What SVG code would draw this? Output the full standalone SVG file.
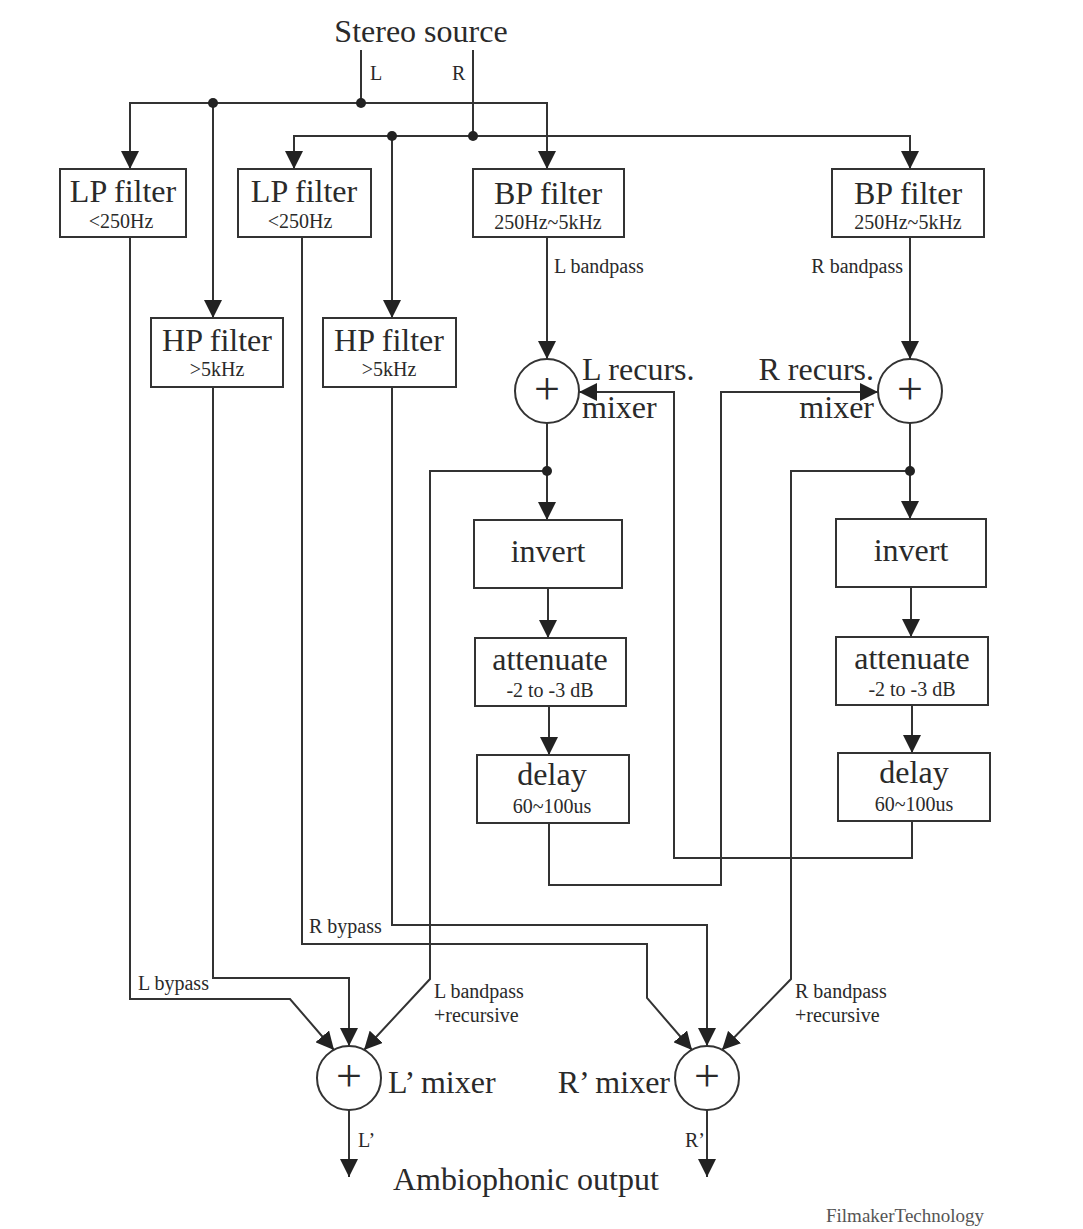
<svg xmlns="http://www.w3.org/2000/svg" width="1083" height="1229" viewBox="0 0 1083 1229">
<style>
.box{fill:#fff;stroke:#333;stroke-width:2}
.mix{fill:#fff;stroke:#333;stroke-width:2}
.big{font-family:"Liberation Serif","Times New Roman",serif;font-size:32px;fill:#2a2a2a}
.sm{font-family:"Liberation Serif","Times New Roman",serif;font-size:20px;fill:#2a2a2a}
.plus{font-family:"Liberation Serif","Times New Roman",serif;font-size:46px;fill:#2a2a2a;text-anchor:middle}
.c{text-anchor:middle}
.e{text-anchor:end}
.ln{fill:none;stroke:#333;stroke-width:2}
.ar{marker-end:url(#ah)}
.dot{fill:#222}
</style>
<defs>
<marker id="ah" markerUnits="userSpaceOnUse" markerWidth="18" markerHeight="18" viewBox="0 0 18 18" refX="18" refY="9" orient="auto">
<path d="M0,0 L18,9 L0,18 z" fill="#222"/>
</marker>
</defs>
<rect width="1083" height="1229" fill="#fff"/>

<g id="connectors">
<path class="ln" d="M361,50 V103"/>
<path class="ln" d="M473,50 V136"/>
<path class="ln ar" d="M361,103 H130 V169"/>
<path class="ln ar" d="M361,103 H547 V169"/>
<path class="ln ar" d="M213,103 V318"/>
<path class="ln ar" d="M473,136 H294 V169"/>
<path class="ln ar" d="M473,136 H910 V169"/>
<path class="ln ar" d="M392,136 V318"/>
<path class="ln ar" d="M547,237 V359"/>
<path class="ln ar" d="M910,237 V359"/>
<path class="ln ar" d="M547,423 V520"/>
<path class="ln ar" d="M547,471 H430 V979 L364,1050"/>
<path class="ln ar" d="M548,588 V638"/>
<path class="ln ar" d="M549,706 V755"/>
<path class="ln ar" d="M549,823 V885 H721 V392 H878"/>
<path class="ln ar" d="M910,423 V519"/>
<path class="ln ar" d="M910,471 H791 V979 L722,1050"/>
<path class="ln ar" d="M911,587 V637"/>
<path class="ln ar" d="M912,705 V753"/>
<path class="ln ar" d="M912,821 V858 H674 V392 H579"/>
<path class="ln ar" d="M130,237 V999 H290 L334,1050"/>
<path class="ln ar" d="M213,387 V978 H349 V1046"/>
<path class="ln ar" d="M302,237 V944 H647 V998 L692,1050"/>
<path class="ln ar" d="M392,387 V925 H707 V1046"/>
<path class="ln ar" d="M349,1110 V1177"/>
<path class="ln ar" d="M707,1110 V1177"/>
<circle class="dot" cx="213" cy="103" r="5"/>
<circle class="dot" cx="361" cy="103" r="5"/>
<circle class="dot" cx="392" cy="136" r="5"/>
<circle class="dot" cx="473" cy="136" r="5"/>
<circle class="dot" cx="547" cy="471" r="5"/>
<circle class="dot" cx="910" cy="471" r="5"/>
</g>

<g id="labels">
<text class="big c" x="421" y="42">Stereo source</text>
<text class="sm" x="370" y="80">L</text>
<text class="sm" x="452" y="80">R</text>
<text class="sm" x="554" y="273">L bandpass</text>
<text class="sm e" x="903" y="273">R bandpass</text>
<text class="sm" x="138" y="990">L bypass</text>
<text class="sm" x="309" y="933">R bypass</text>
<text class="sm" x="434" y="998">L bandpass</text>
<text class="sm" x="434" y="1022">+recursive</text>
<text class="sm" x="795" y="998">R bandpass</text>
<text class="sm" x="795" y="1022">+recursive</text>
<text class="sm" x="358" y="1147">L’</text>
<text class="sm e" x="705" y="1147">R’</text>
<text class="big" x="393" y="1190">Ambiophonic output</text>
<text class="sm" x="826" y="1222" style="font-size:19px;fill:#555">FilmakerTechnology</text>
</g>

<g id="lp1"><rect class="box" x="60" y="169" width="126" height="68"/><text class="big c" x="123" y="202">LP filter</text><text class="sm c" x="121" y="228">&lt;250Hz</text></g>
<g id="lp2"><rect class="box" x="238" y="169" width="133" height="68"/><text class="big c" x="304" y="202">LP filter</text><text class="sm c" x="300" y="228">&lt;250Hz</text></g>
<g id="bp1"><rect class="box" x="473" y="169" width="151" height="68"/><text class="big c" x="548" y="204">BP filter</text><text class="sm c" x="548" y="229">250Hz~5kHz</text></g>
<g id="bp2"><rect class="box" x="832" y="169" width="152" height="68"/><text class="big c" x="908" y="204">BP filter</text><text class="sm c" x="908" y="229">250Hz~5kHz</text></g>
<g id="hp1"><rect class="box" x="151" y="318" width="132" height="69"/><text class="big c" x="217" y="351">HP filter</text><text class="sm c" x="217" y="376">&gt;5kHz</text></g>
<g id="hp2"><rect class="box" x="323" y="318" width="133" height="69"/><text class="big c" x="389" y="351">HP filter</text><text class="sm c" x="389" y="376">&gt;5kHz</text></g>

<g id="lmix"><circle class="mix" cx="547" cy="391" r="32"/><text class="plus" x="547" y="404">+</text><text class="big" x="582" y="380">L recurs.</text><text class="big" x="582" y="418">mixer</text></g>
<g id="rmix"><circle class="mix" cx="910" cy="391" r="32"/><text class="plus" x="910" y="404">+</text><text class="big e" x="874" y="380">R recurs.</text><text class="big e" x="874" y="418">mixer</text></g>

<g id="invl"><rect class="box" x="474" y="520" width="148" height="68"/><text class="big c" x="548" y="562">invert</text></g>
<g id="attl"><rect class="box" x="475" y="638" width="151" height="68"/><text class="big c" x="550" y="670">attenuate</text><text class="sm c" x="550" y="697">-2 to -3 dB</text></g>
<g id="dell"><rect class="box" x="477" y="755" width="152" height="68"/><text class="big c" x="552" y="785">delay</text><text class="sm c" x="552" y="813">60~100us</text></g>
<g id="invr"><rect class="box" x="836" y="519" width="150" height="68"/><text class="big c" x="911" y="561">invert</text></g>
<g id="attr"><rect class="box" x="836" y="637" width="152" height="68"/><text class="big c" x="912" y="669">attenuate</text><text class="sm c" x="912" y="696">-2 to -3 dB</text></g>
<g id="delr"><rect class="box" x="838" y="753" width="152" height="68"/><text class="big c" x="914" y="783">delay</text><text class="sm c" x="914" y="811">60~100us</text></g>

<g id="lpmix"><circle class="mix" cx="349" cy="1078" r="32"/><text class="plus" x="349" y="1091">+</text><text class="big" x="388" y="1093">L’ mixer</text></g>
<g id="rpmix"><circle class="mix" cx="707" cy="1078" r="32"/><text class="plus" x="707" y="1091">+</text><text class="big e" x="670" y="1093">R’ mixer</text></g>
</svg>
